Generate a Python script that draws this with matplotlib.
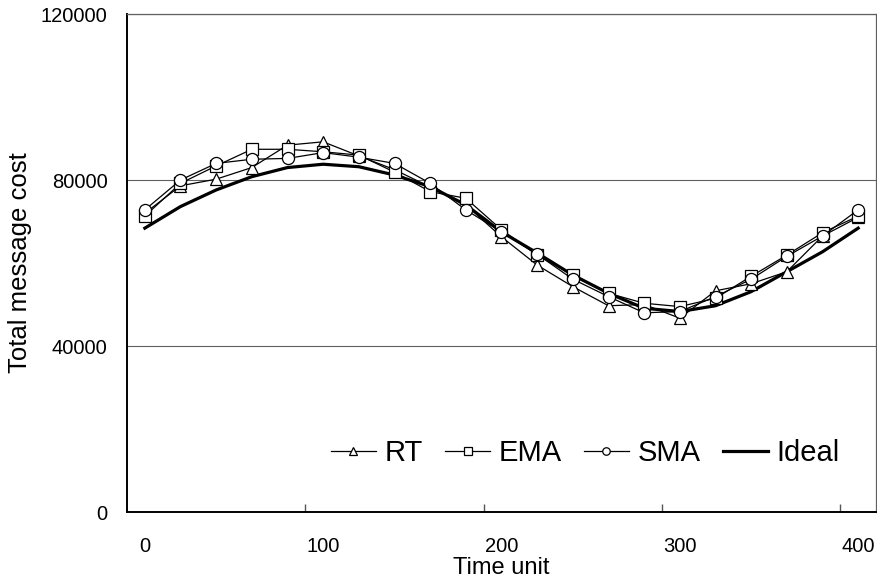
import matplotlib
matplotlib.use("Agg")
import matplotlib.pyplot as plt
from matplotlib.ticker import FixedLocator

plt.rcParams['font.family'] = ['Liberation Sans', 'DejaVu Sans']

# time steps (every 20 units)
time_units = [0, 20, 40, 60, 80, 100, 120, 140, 160, 180, 200,
              220, 240, 260, 280, 300, 320, 340, 360, 380, 400]

rt = [72000, 78600, 80200, 83000, 88400, 89200, 85800, 82500, 78300, 74000, 66300,
      59500, 54300, 49700, 50000, 46700, 53300, 55000, 57900, 66500, 71000]
ema = [71300, 79200, 83400, 87400, 87400, 86800, 86000, 81900, 77200, 75600, 68000,
       61900, 57100, 52700, 50300, 49500, 51500, 56800, 61900, 67300, 71300]
sma = [72800, 80000, 84000, 85000, 85200, 86600, 85500, 84000, 79200, 72800, 67500,
       62100, 56100, 51900, 48000, 48300, 51900, 56100, 61600, 66500, 72800]
ideal = [68400, 73600, 77600, 80800, 83000, 83800, 83200, 81200, 78400, 74000, 67500,
         62400, 57100, 52700, 49100, 48300, 49700, 53100, 57900, 62700, 68400]

x_labels = [0, 100, 200, 300, 400]
y_ticks = [0, 40000, 80000, 120000]

fig = plt.figure(figsize=(8.78, 5.83), dpi=100)
ax = fig.add_axes([127 / 878, 1 - 512 / 583, 749 / 878, 498 / 583])

ax.plot(time_units, ideal, color='black', linewidth=2.3, label='Ideal', zorder=2)
mk = dict(color='black', linewidth=0.9, markersize=8.7, markerfacecolor='white',
          markeredgecolor='black', markeredgewidth=0.9, zorder=3)
l_rt, = ax.plot(time_units, rt, marker='^', label='RT', **mk)
l_ema, = ax.plot(time_units, ema, marker='s', label='EMA', **mk)
l_sma, = ax.plot(time_units, sma, marker='o', label='SMA', **mk)
l_ideal = ax.lines[0]

ax.set_xlim(-10, 410)
ax.set_ylim(0, 120000)
ax.set_xticks(x_labels)
ax.xaxis.set_minor_locator(FixedLocator([90, 190, 290, 390]))
ax.tick_params(axis='x', which='major', length=0, pad=18, labelsize=14.5)
ax.tick_params(axis='x', which='minor', direction='in', length=6, width=1, color='#555555')
ax.set_yticks(y_ticks)
ax.tick_params(axis='y', length=0, pad=14, labelsize=14.5)

ax.grid(axis='y', color='#606060', linewidth=0.8)
ax.set_axisbelow(True)

for side in ['left', 'bottom']:
    ax.spines[side].set_color('black')
    ax.spines[side].set_linewidth(1.4)
for side in ['top', 'right']:
    ax.spines[side].set_color('#606060')
    ax.spines[side].set_linewidth(0.9)

ax.set_xlabel('Time unit', fontsize=17, labelpad=1)
ax.set_ylabel('Total message cost', fontsize=18.5, labelpad=6)

ax.legend([l_rt, l_ema, l_sma, l_ideal], ['RT', 'EMA', 'SMA', 'Ideal'],
          loc='center', bbox_to_anchor=(0.612, 0.118), ncol=4, frameon=False,
          fontsize=21, handlelength=1.55, handletextpad=0.3, columnspacing=0.75,
          markerscale=0.62)

fig.savefig('out.png', dpi=100)
